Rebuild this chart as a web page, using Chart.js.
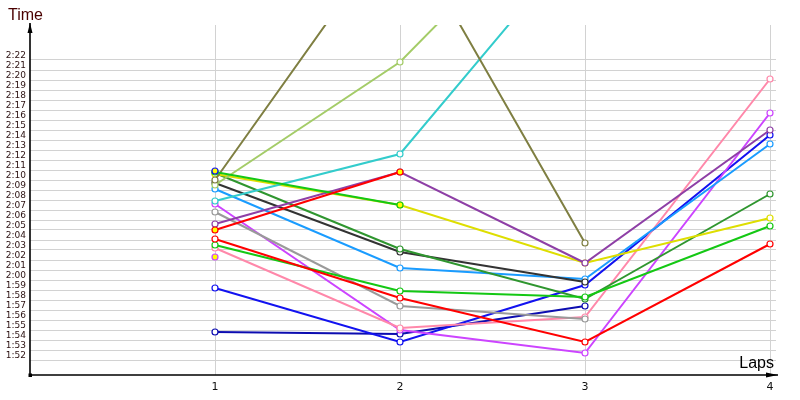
<!DOCTYPE html>
<html>
<head>
<meta charset="utf-8">
<script src="https://cdn.jsdelivr.net/npm/chart.js@4"></script>
<style>
  html, body { margin: 0; padding: 0; background: #fff; }
  #wrap { width: 800px; height: 400px; }
</style>
</head>
<body>
<div id="wrap"><canvas id="laps"></canvas></div>
<script>
// lap times in seconds, null = no lap
const laps = [1, 2, 3, 4];
// first in the list is drawn on top
const drivers = ['blueB', 'redA', 'greenA', 'violetB', 'olive', 'lightgreen', 'cyan', 'purple', 'redB', 'yellow',
    'greenB', 'darkgreen', 'darkgray', 'lightblue', 'gray', 'pink', 'violetA', 'blueA', 'navy'];
const olive = [130.0, 156.0, 123.7, null];
const lightgreen = [129.5, 141.8, 160.6, null];
const cyan = [127.9, 132.6, 154.6, null];
const purple = [125.6, 130.8, 121.7, 135.0];
const redA = [125.0, 130.8, null, null];
const redB = [124.1, 118.2, 113.8, 123.6];
const yellow = [130.6, 127.5, 121.7, 126.2];
const greenA = [130.8, 127.5, null, null];
const greenB = [123.5, 118.9, 118.3, 125.4];
const darkgreen = [130.7, 123.1, 118.1, 128.6];
const darkgray = [129.7, 122.8, 119.8, null];
const lightblue = [129.1, 121.2, 120.1, 133.6];
const gray = [126.8, 117.4, 116.1, null];
const pink = [123.2, 115.2, 116.3, 140.1];
const violetA = [127.6, 115.0, 112.7, 136.7];
const violetB = [122.3, null, null, null];
const blueA = [119.2, 113.8, 119.5, 134.5];
const blueB = [130.9, null, null, null];
const navy = [114.8, 114.6, 117.4, null];
// second driver of a team gets yellow markers
const secondDriver = ['redA', 'greenA', 'violetB', 'blueB'];
const timeTicks = [112, 113, 114, 115, 116, 117, 118, 119, 120, 121, 122, 123, 124, 125, 126, 127,
    128, 129, 130, 131, 132, 133, 134, 135, 136, 137, 138, 139, 140, 141, 142];

const series = { olive, lightgreen, cyan, purple, redA, redB, yellow, greenA, greenB,
    darkgreen, darkgray, lightblue, gray, pink, violetA, violetB, blueA, blueB, navy };
const lineColors = {
    olive: '#7f7f42', lightgreen: '#a4cc68', cyan: '#33cccc', purple: '#8e3fa6',
    redA: '#ff0000', redB: '#ff0000', yellow: '#dede00', greenA: '#14c814', greenB: '#14c814',
    darkgreen: '#2f962f', darkgray: '#333333', lightblue: '#1a9cff', gray: '#9a9a9a',
    pink: '#ff88aa', violetA: '#cc44ff', violetB: '#cc44ff', blueA: '#1212f0', blueB: '#1212f0',
    navy: '#0c0cb0',
};

const fmtTime = (s) => {
    const m = Math.floor(s / 60);
    const sec = Math.round(s - m * 60);
    return `${m}:${String(sec).padStart(2, '0')}`;
};

const datasets = drivers.map((name) => ({
    label: name,
    data: laps.map((lap, i) => ({ x: lap, y: series[name][i] })),
    borderColor: lineColors[name],
    borderWidth: 2,
    pointRadius: 3,
    pointBorderWidth: 1.2,
    pointBorderColor: lineColors[name],
    pointBackgroundColor: secondDriver.includes(name) ? '#ffff00' : '#ffffff',
    spanGaps: false,
    tension: 0,
}));

// axes with arrow heads + the two axis titles
const axisArrows = {
    id: 'axisArrows',
    afterDraw(chart) {
        const { ctx, chartArea: a } = chart;
        ctx.save();
        ctx.strokeStyle = '#000';
        ctx.fillStyle = '#000';
        ctx.lineWidth = 1.6;
        ctx.beginPath();
        ctx.moveTo(a.left, a.bottom);
        ctx.lineTo(a.left, a.top - 2);
        ctx.moveTo(a.left, a.bottom);
        ctx.lineTo(a.right + 2, a.bottom);
        ctx.stroke();
        ctx.beginPath();
        ctx.moveTo(a.left, a.top - 2);
        ctx.lineTo(a.left - 2.5, a.top + 8);
        ctx.lineTo(a.left + 2.5, a.top + 8);
        ctx.closePath();
        ctx.fill();
        ctx.beginPath();
        ctx.moveTo(a.right + 2, a.bottom);
        ctx.lineTo(a.right - 10, a.bottom - 2.5);
        ctx.lineTo(a.right - 10, a.bottom + 2.5);
        ctx.closePath();
        ctx.fill();
        ctx.fillRect(a.left - 1.5, a.bottom - 1.5, 3.5, 3.5);

        ctx.font = '16px "Liberation Sans", Arial, sans-serif';
        ctx.textBaseline = 'middle';
        ctx.fillStyle = '#4a0000';
        ctx.textAlign = 'left';
        ctx.fillText('Time', 8, 16);
        ctx.fillStyle = '#000';
        ctx.textAlign = 'right';
        ctx.fillText('Laps', a.right - 2, a.bottom - 11);
        ctx.restore();
    },
};

const ctx = document.getElementById('laps').getContext('2d');
const chart = new Chart(ctx, {
    type: 'line',
    data: { datasets },
    options: {
        responsive: true,
        maintainAspectRatio: false,
        animation: false,
        events: [],
        layout: {
            padding: { top: 25, right: 24, left: 0, bottom: 0 },
        },
        plugins: {
            legend: { display: false },
            title: { display: false },
            tooltip: { enabled: false },
        },
        scales: {
            x: {
                type: 'linear',
                min: 0,
                max: 746 / 185,
                afterBuildTicks(scale) {
                    scale.ticks = laps.map((v) => ({ value: v }));
                },
                afterFit(scale) {
                    scale.height = 25;
                },
                ticks: {
                    color: '#111',
                    padding: 6,
                    autoSkip: false,
                    maxRotation: 0,
                    font: { family: '"DejaVu Sans", sans-serif', size: 11 },
                    callback: (v) => String(v),
                },
                grid: { color: '#d2d2d2', lineWidth: 1, drawTicks: false },
                border: { display: false },
            },
            y: {
                min: 110.5,
                max: 145.5,
                afterBuildTicks(scale) {
                    scale.ticks = timeTicks.map((v) => ({ value: v }));
                },
                afterFit(scale) {
                    scale.width = 30;
                },
                ticks: {
                    color: '#2a1010',
                    padding: 4,
                    autoSkip: false,
                    labelOffset: -4,
                    font: { family: '"DejaVu Sans", sans-serif', size: 9 },
                    callback: (v) => fmtTime(v),
                },
                grid: { color: '#d2d2d2', lineWidth: 1, drawTicks: false },
                border: { display: false },
            },
        },
    },
    plugins: [axisArrows],
});
</script>
</body>
</html>
